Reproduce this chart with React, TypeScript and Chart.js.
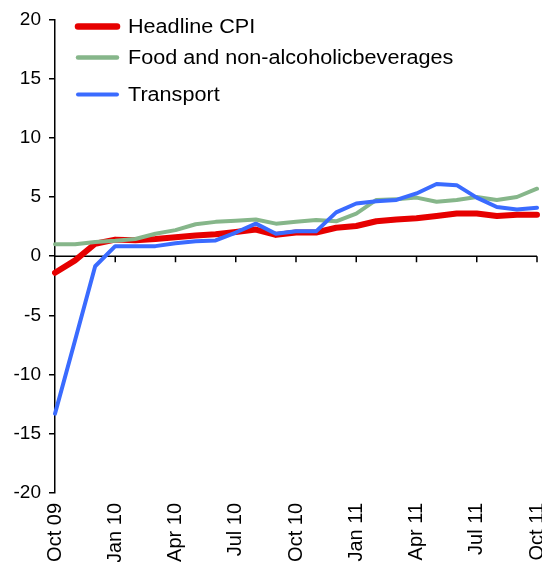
import React, { useEffect, useRef } from "react";
import { Chart, registerables } from "chart.js";

Chart.register(...registerables);

const months = [
  "Oct 09", "Nov 09", "Dec 09", "Jan 10", "Feb 10", "Mar 10", "Apr 10", "May 10", "Jun 10",
  "Jul 10", "Aug 10", "Sep 10", "Oct 10", "Nov 10", "Dec 10", "Jan 11", "Feb 11", "Mar 11",
  "Apr 11", "May 11", "Jun 11", "Jul 11", "Aug 11", "Sep 11", "Oct 11",
];

const headlineCPI = [
  -1.4, -0.35, 1.05, 1.4, 1.35, 1.45, 1.6, 1.75, 1.85, 2.05, 2.25, 1.8, 2.0,
  2.0, 2.4, 2.55, 2.95, 3.1, 3.2, 3.4, 3.6, 3.6, 3.4, 3.5, 3.5,
];

const foodBeverages = [
  1.0, 1.0, 1.2, 1.3, 1.45, 1.9, 2.2, 2.7, 2.9, 3.0, 3.1, 2.75, 2.9,
  3.05, 2.95, 3.6, 4.75, 4.8, 4.95, 4.6, 4.75, 5.0, 4.75, 5.0, 5.7,
];

const transport = [
  -13.3, -7.1, -0.85, 0.85, 0.85, 0.85, 1.1, 1.27, 1.33, 2.0, 2.75, 1.9, 2.1,
  2.1, 3.7, 4.45, 4.65, 4.75, 5.3, 6.1, 6.0, 4.95, 4.15, 3.95, 4.1,
];

const seriesNames = ["Headline CPI", "Food and non-alcoholicbeverages", "Transport"];
const seriesColors = ["#e60000", "#86b68a", "#3a6bff"];
const seriesWidths = [6, 4, 4];

const yMin = -20;
const yMax = 20;
const yStep = 5;
const labelEvery = 3;

const FONT = "'Liberation Sans', Arial, Helvetica, sans-serif";

const zeroAxisPlugin = {
  id: "zeroAxis",
  beforeDatasetsDraw(chart: any) {
    const { ctx, chartArea, scales } = chart;
    const xs = scales.x;
    const ys = scales.y;
    const y0 = ys.getPixelForValue(0);
    ctx.save();
    ctx.strokeStyle = "#000";
    ctx.lineWidth = 1.5;
    ctx.beginPath();
    ctx.moveTo(chartArea.left, y0);
    ctx.lineTo(chartArea.right, y0);
    for (let i = labelEvery; i < months.length; i += labelEvery) {
      const px = xs.getPixelForValue(i);
      ctx.moveTo(px, y0);
      ctx.lineTo(px, y0 + 6);
    }
    ctx.stroke();
    ctx.restore();
  },
};

const legendPlugin = {
  id: "customLegend",
  afterDraw(chart: any) {
    const { ctx, chartArea } = chart;
    const rowOffsets = [7, 38, 75];
    ctx.save();
    ctx.font = `20px ${FONT}`;
    ctx.textBaseline = "middle";
    ctx.fillStyle = "#000";
    chart.data.datasets.forEach((ds: any, i: number) => {
      const y = chartArea.top + rowOffsets[i];
      const x0 = chartArea.left + 23;
      ctx.strokeStyle = ds.borderColor;
      ctx.lineWidth = i === 0 ? 6.5 : i === 1 ? 4.5 : 4;
      ctx.lineCap = "round";
      ctx.beginPath();
      ctx.moveTo(x0, y);
      ctx.lineTo(x0 + 39, y);
      ctx.stroke();
      ctx.save();
      ctx.translate(chartArea.left + 73, y);
      ctx.scale(1.08, 1);
      ctx.fillText(ds.label, 0, 1);
      ctx.restore();
    });
    ctx.restore();
  },
};

export default function App() {
  const canvasRef = useRef<HTMLCanvasElement | null>(null);

  useEffect(() => {
    document.body.style.margin = "0";
    document.body.style.overflow = "hidden";
    const canvas = canvasRef.current;
    if (!canvas) return;
    const series = [headlineCPI, foodBeverages, transport];
    const chart = new Chart(canvas, {
      type: "line",
      data: {
        labels: months,
        datasets: series.map((data, i) => ({
          label: seriesNames[i],
          data,
          borderColor: seriesColors[i],
          backgroundColor: seriesColors[i],
          borderWidth: seriesWidths[i],
          pointRadius: 0,
          tension: 0,
          fill: false,
          borderJoinStyle: "round" as const,
          borderCapStyle: "round" as const,
          order: 3 - i,
        })),
      },
      options: {
        animation: false,
        responsive: true,
        maintainAspectRatio: false,
        layout: { padding: { top: 19, right: 5, left: 0, bottom: 0 } },
        plugins: {
          legend: { display: false },
          tooltip: { enabled: false },
        },
        scales: {
          x: {
            type: "category",
            offset: false,
            grid: { display: false, drawTicks: false },
            border: { display: false },
            ticks: {
              autoSkip: false,
              maxRotation: 90,
              minRotation: 90,
              padding: 10,
              color: "#000",
              font: { family: FONT, size: 20 },
              callback: (_v: any, i: number) => (i % labelEvery === 0 ? months[i] : ""),
            },
            afterFit: (s: any) => {
              s.height = 69;
              s.paddingLeft = 0;
              s.paddingRight = 0;
            },
          },
          y: {
            min: yMin,
            max: yMax,
            ticks: {
              stepSize: yStep,
              padding: 8,
              color: "#000",
              font: { family: FONT, size: 19 },
            },
            grid: {
              drawOnChartArea: false,
              drawTicks: true,
              tickLength: 6,
              color: "#000",
              lineWidth: 1.5,
            },
            border: { display: true, color: "#000", width: 1.5 },
            afterFit: (s: any) => {
              s.width = 55;
            },
          },
        },
      },
      plugins: [zeroAxisPlugin, legendPlugin],
    });
    return () => chart.destroy();
  }, []);

  return (
    <div style={{ position: "relative", width: 542, height: 562 }}>
      <canvas ref={canvasRef} />
    </div>
  );
}
